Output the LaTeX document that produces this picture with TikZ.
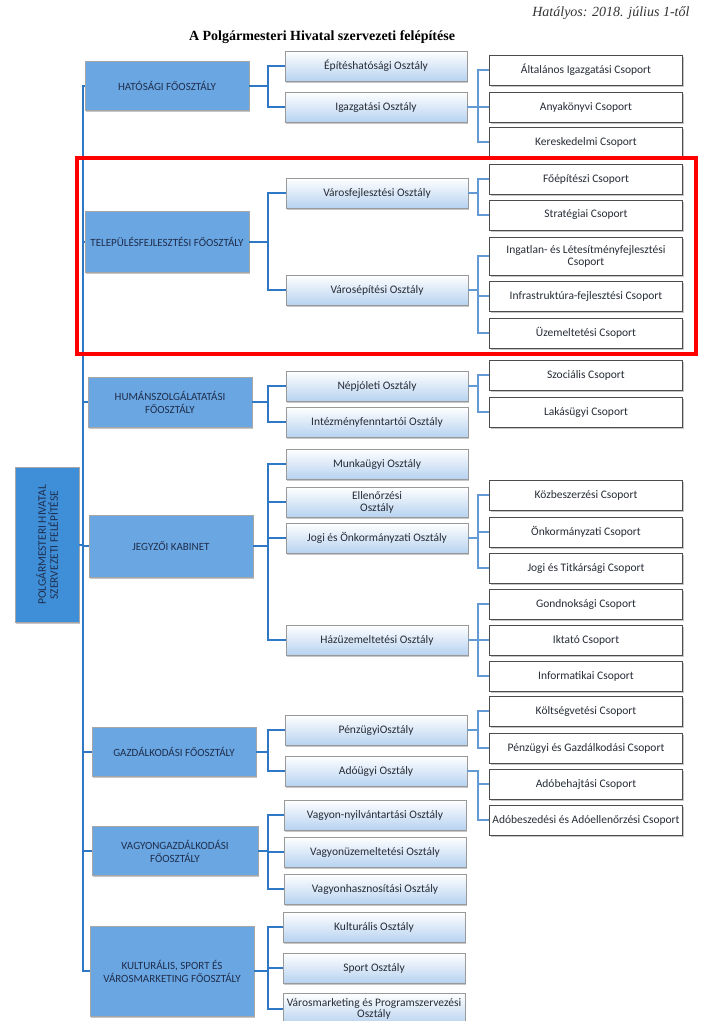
\documentclass[tikz,border=0pt]{standalone}
\usepackage{fontspec}
\setmainfont{Carlito}
\newfontfamily\cimfont{Liberation Serif}
\usetikzlibrary{shadows}
\definecolor{fokek}{HTML}{6AA6E2}
\definecolor{gyokerkek}{HTML}{3F8ED8}
\definecolor{foszoveg}{HTML}{1F2E4C}
\definecolor{osztkek}{HTML}{B7D2F0}
\definecolor{vonalkek}{HTML}{2F78C6}
\definecolor{szoveg}{HTML}{272C36}

\begin{document}
\begin{tikzpicture}[x=1pt,y=-1pt,
        fooszt/.style={rectangle, draw=black!35, fill=fokek, text=foszoveg, align=center,
                font=\fontsize{11}{13}\selectfont, minimum width=164pt, inner sep=1pt,
                drop shadow={shadow xshift=1pt, shadow yshift=-1.5pt, opacity=.45}},
        oszt/.style={rectangle, draw=black!40, top color=white, bottom color=osztkek, text=szoveg,
                align=center, font=\fontsize{11.5}{12}\selectfont, minimum width=182pt,
                minimum height=30pt, inner xsep=1pt, inner ysep=1pt,
                drop shadow={shadow xshift=1pt, shadow yshift=-1.5pt, opacity=.45}},
        csop/.style={rectangle, draw=black!70, fill=white, text=szoveg, align=center,
                font=\fontsize{11.5}{12}\selectfont, minimum width=193pt, minimum height=30pt,
                inner xsep=1pt, inner ysep=1pt,
                drop shadow={shadow xshift=1pt, shadow yshift=-1.5pt, opacity=.45}},
        fovonal/.style={draw=vonalkek, line width=2pt},
        csvonal/.style={draw=vonalkek!75, line width=1.1pt}]
        \useasboundingbox (0,0) rectangle (701,1021);

        \node[anchor=east, font=\cimfont\itshape\fontsize{14}{16}\selectfont, text=black!80] (hatalyos) at (693,13) {Hatályos: 2018. július 1-től};
        \node[font=\cimfont\bfseries\fontsize{14}{16}\selectfont] (cim) at (322,37) {A Polgármesteri Hivatal szervezeti felépítése};

        \coordinate (mx) at (83,0);
        \coordinate (bx) at (268,0);
        \coordinate (cx) at (478,0);

        \node[fooszt, fill=gyokerkek, minimum width=64pt, minimum height=155pt] (gyoker) at (47,545) {};
        \node[rotate=90, align=center, text=foszoveg, font=\fontsize{11.5}{12}\selectfont] (gyokerszoveg) at (gyoker.center) {POLGÁRMESTERI HIVATAL\\SZERVEZETI FELÉPÍTÉSE};

        \node[fooszt, minimum height=49pt] (hat) at (167,86) {HATÓSÁGI FŐOSZTÁLY};
        \node[fooszt, minimum height=61pt] (telep) at (167,242) {\makebox[150pt]{TELEPÜLÉSFEJLESZTÉSI FŐOSZTÁLY}};
        \node[fooszt, minimum height=50pt] (human) at (170,402) {HUMÁNSZOLGÁLATATÁSI\\FŐOSZTÁLY};
        \node[fooszt, minimum height=62pt] (jegyzo) at (171,546) {JEGYZŐI KABINET};
        \node[fooszt, minimum height=49pt] (gazd) at (174,752) {GAZDÁLKODÁSI FŐOSZTÁLY};
        \node[fooszt, minimum height=49pt, minimum width=166pt] (vagyon) at (175,851) {VAGYONGAZDÁLKODÁSI\\FŐOSZTÁLY};
        \node[fooszt, minimum height=90pt] (kult) at (172,971) {KULTURÁLIS, SPORT ÉS\\VÁROSMARKETING FŐOSZTÁLY};

        \node[oszt] (epit) at (376,66) {Építéshatósági Osztály};
        \node[oszt] (igaz) at (376,107) {Igazgatási Osztály};
        \node[oszt] (vfejl) at (377,193) {Városfejlesztési Osztály};
        \node[oszt] (vepit) at (377,290) {Városépítési Osztály};
        \node[oszt] (nepj) at (377,386) {Népjóleti Osztály};
        \node[oszt] (intez) at (377,422) {Intézményfenntartói Osztály};
        \node[oszt] (munka) at (377,464) {Munkaügyi Osztály};
        \node[oszt] (ellen) at (377,502) {Ellenőrzési\\Osztály};
        \node[oszt] (jogi) at (377,538) {Jogi és Önkormányzati Osztály};
        \node[oszt] (haz) at (377,640) {Házüzemeltetési Osztály};
        \node[oszt] (penz) at (376,730) {PénzügyiOsztály};
        \node[oszt] (ado) at (376,771) {Adóügyi Osztály};
        \node[oszt] (vnyilv) at (375,815) {Vagyon-nyilvántartási Osztály};
        \node[oszt] (vuzem) at (375,852) {Vagyonüzemeltetési Osztály};
        \node[oszt] (vhaszn) at (375,889) {Vagyonhasznosítási Osztály};
        \node[oszt] (kultoszt) at (374,927) {Kulturális Osztály};
        \node[oszt] (sport) at (374,968) {Sport Osztály};
        \node[oszt, font=\fontsize{11.5}{11}\selectfont, minimum height=32pt] (vmark) at (374,1009) {Városmarketing és Programszervezési\\Osztály};

        \node[csop] (altal) at (586,70) {Általános Igazgatási Csoport};
        \node[csop] (anya) at (586,107) {Anyakönyvi Csoport};
        \node[csop] (keresk) at (586,142) {Kereskedelmi Csoport};
        \node[csop] (foep) at (586,179) {Főépítészi Csoport};
        \node[csop] (strat) at (586,215) {Stratégiai Csoport};
        \node[csop, minimum height=38pt] (ingatl) at (586,256) {Ingatlan- és Létesítményfejlesztési\\Csoport};
        \node[csop] (infra) at (586,296) {Infrastruktúra-fejlesztési Csoport};
        \node[csop] (uzem) at (586,333) {Üzemeltetési Csoport};
        \node[csop] (szoc) at (586,375) {Szociális Csoport};
        \node[csop] (lakas) at (586,412) {Lakásügyi Csoport};
        \node[csop] (kozb) at (586,495) {Közbeszerzési Csoport};
        \node[csop] (onk) at (586,532) {Önkormányzati Csoport};
        \node[csop] (titk) at (586,568) {Jogi és Titkársági Csoport};
        \node[csop] (gondn) at (586,604) {Gondnoksági Csoport};
        \node[csop] (iktat) at (586,640) {Iktató Csoport};
        \node[csop] (infor) at (586,676) {Informatikai Csoport};
        \node[csop] (kolts) at (586,711) {Költségvetési Csoport};
        \node[csop] (pgazd) at (586,748) {Pénzügyi és Gazdálkodási Csoport};
        \node[csop] (adobeh) at (586,784) {Adóbehajtási Csoport};
        \node[csop] (adobesz) at (586,820) {Adóbeszedési és Adóellenőrzési Csoport};

        \draw[fovonal] (hat.west) -- (mx |- hat.west) -- (mx |- kult.west) -- (kult.west);
        \foreach \f in {telep,human,jegyzo,gazd,vagyon}
                \draw[fovonal] (\f.west) -- (mx |- \f.west);
        \draw[fovonal] (gyoker.east) -- (mx |- gyoker.east);

        \foreach \p/\c in {hat/epit,hat/igaz,telep/vfejl,telep/vepit,human/nepj,human/intez,
                jegyzo/munka,jegyzo/ellen,jegyzo/jogi,jegyzo/haz,gazd/penz,gazd/ado,
                vagyon/vnyilv,vagyon/vuzem,vagyon/vhaszn,kult/kultoszt,kult/sport,kult/vmark}
                \draw[fovonal] (\p.east) -- (bx |- \p.east) |- (\c.west);

        \foreach \p/\c in {igaz/altal,igaz/anya,igaz/keresk,vfejl/foep,vfejl/strat,
                vepit/ingatl,vepit/infra,vepit/uzem,nepj/szoc,nepj/lakas,
                jogi/kozb,jogi/onk,jogi/titk,haz/gondn,haz/iktat,haz/infor,
                penz/kolts,penz/pgazd,ado/adobeh,ado/adobesz}
                \draw[csvonal] (\p.east) -- (cx |- \p.east) |- (\c.west);

        \draw[red, line width=3.5pt] (77,158) rectangle (696,354);
\end{tikzpicture}
\end{document}
